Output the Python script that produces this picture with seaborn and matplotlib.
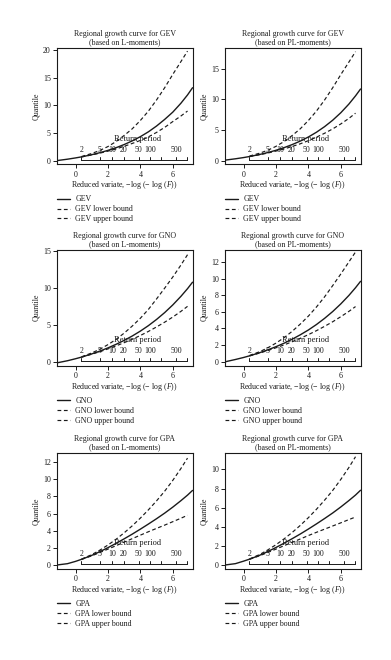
import numpy as np
import pandas as pd
import matplotlib
matplotlib.use("Agg")
import matplotlib.pyplot as plt
import seaborn as sns
from matplotlib.lines import Line2D

sns.set_style("ticks")
plt.rcParams['font.family'] = ['Liberation Serif', 'DejaVu Serif']
plt.rcParams['mathtext.fontset'] = 'custom'
plt.rcParams['mathtext.rm'] = 'Liberation Serif'
plt.rcParams['mathtext.it'] = 'Liberation Serif:italic'

# ---------------- data ----------------
x_curve = [-1.14, -0.5, 0.0, 0.37, 1.0, 1.5, 2.0, 2.5, 3.0, 3.5, 4.0, 4.5, 5.0, 5.5, 6.0, 6.5, 6.91, 7.22]
x_bound = [0.37, 1.0, 1.5, 2.0, 2.5, 3.0, 3.5, 4.0, 4.5, 5.0, 5.5, 6.0, 6.5, 6.91]

gev_l_fit = [0.07, 0.32, 0.55, 0.74, 1.13, 1.49, 1.91, 2.39, 2.96, 3.62, 4.38, 5.26, 6.30, 7.49, 8.80, 10.40, 11.9, 13.2]
gev_l_lo = [0.73, 1.09, 1.41, 1.77, 2.17, 2.64, 3.16, 3.70, 4.35, 5.15, 6.05, 7.10, 8.10, 9.0]
gev_l_up = [0.80, 1.35, 1.90, 2.60, 3.50, 4.60, 5.80, 7.30, 9.00, 11.0, 13.2, 15.6, 17.9, 19.8]

gev_pl_fit = [0.08, 0.30, 0.50, 0.67, 1.01, 1.32, 1.69, 2.12, 2.62, 3.19, 3.86, 4.64, 5.55, 6.60, 7.82, 9.24, 10.58, 11.7]
gev_pl_lo = [0.66, 0.97, 1.24, 1.56, 1.91, 2.31, 2.75, 3.26, 3.83, 4.47, 5.18, 5.99, 6.90, 7.75]
gev_pl_up = [0.75, 1.22, 1.70, 2.33, 3.12, 4.10, 5.20, 6.55, 8.10, 9.90, 11.9, 14.05, 16.1, 17.8]

gno_l_fit = [-0.05, 0.23, 0.50, 0.72, 1.15, 1.53, 1.96, 2.44, 2.97, 3.56, 4.22, 4.96, 5.79, 6.71, 7.74, 8.89, 9.93, 10.8]
gno_l_lo = [0.71, 1.11, 1.45, 1.82, 2.23, 2.66, 3.12, 3.63, 4.18, 4.78, 5.42, 6.11, 6.87, 7.55]
gno_l_up = [0.76, 1.28, 1.78, 2.40, 3.10, 3.95, 4.90, 5.95, 7.15, 8.55, 10.0, 11.5, 13.1, 14.5]

gno_pl_fit = [-0.02, 0.26, 0.50, 0.70, 1.08, 1.42, 1.80, 2.22, 2.70, 3.23, 3.81, 4.47, 5.21, 6.03, 6.95, 7.97, 8.90, 9.67]
gno_pl_lo = [0.69, 1.04, 1.34, 1.67, 2.01, 2.40, 2.81, 3.25, 3.73, 4.25, 4.80, 5.41, 6.05, 6.63]
gno_pl_up = [0.74, 1.20, 1.67, 2.23, 2.88, 3.65, 4.52, 5.48, 6.58, 7.80, 9.15, 10.55, 12.0, 13.2]

gpa_l_fit = [0.0, 0.15, 0.42, 0.66, 1.12, 1.55, 2.02, 2.52, 3.05, 3.60, 4.18, 4.78, 5.40, 6.05, 6.75, 7.50, 8.15, 8.70]
gpa_l_lo = [0.65, 1.07, 1.45, 1.85, 2.25, 2.67, 3.07, 3.48, 3.88, 4.27, 4.65, 5.05, 5.45, 5.80]
gpa_l_up = [0.68, 1.21, 1.73, 2.33, 3.00, 3.75, 4.57, 5.47, 6.44, 7.48, 8.61, 9.87, 11.25, 12.47]

gpa_pl_fit = [0.0, 0.14, 0.40, 0.61, 1.02, 1.41, 1.83, 2.28, 2.75, 3.24, 3.76, 4.30, 4.86, 5.44, 6.07, 6.74, 7.32, 7.82]
gpa_pl_lo = [0.60, 0.97, 1.31, 1.66, 2.02, 2.37, 2.72, 3.08, 3.42, 3.75, 4.08, 4.41, 4.75, 5.02]
gpa_pl_up = [0.63, 1.10, 1.58, 2.12, 2.73, 3.40, 4.14, 4.95, 5.83, 6.78, 7.80, 8.95, 10.2, 11.33]

distributions = ["GEV", "GEV", "GNO", "GNO", "GPA", "GPA"]
methods = ["L-moments", "PL-moments", "L-moments", "PL-moments", "L-moments", "PL-moments"]
fits = [gev_l_fit, gev_pl_fit, gno_l_fit, gno_pl_fit, gpa_l_fit, gpa_pl_fit]
lowers = [gev_l_lo, gev_pl_lo, gno_l_lo, gno_pl_lo, gpa_l_lo, gpa_pl_lo]
uppers = [gev_l_up, gev_pl_up, gno_l_up, gno_pl_up, gpa_l_up, gpa_pl_up]
yticks = [[0, 5, 10, 15, 20], [0, 5, 10, 15], [0, 5, 10, 15], [0, 2, 4, 6, 8, 10, 12],
          [0, 2, 4, 6, 8, 10, 12], [0, 2, 4, 6, 8, 10]]
ylims = [(-0.6, 20.36), (-0.6, 18.4), (-0.45, 15.2), (-0.5, 13.5), (-0.47, 13.1), (-0.42, 11.75)]
xticks = [0, 2, 4, 6]
return_periods = [2, 5, 10, 20, 50, 100, 200, 500, 1000]
rp_labels = ["2", "5", "10", "20", "50", "100", "", "500", ""]

# ---------------- layout ----------------
W, H = 391, 660
fig = plt.figure(figsize=(W / 100, H / 100), dpi=100)
col_left = [57, 225]
ax_w = 135.5
row_top = [48, 249.5, 452.7]
ax_h = 116.3
ink = "#1a1a1a"
FS = 5.7
xlim = (-1.144, 7.217)
dash = (0, (3.2, 2.2))

for i in range(6):
    r, c = divmod(i, 2)
    left = col_left[c] / W
    bottom = 1 - (row_top[r] + ax_h) / H
    ax = fig.add_axes([left, bottom, ax_w / W, ax_h / H])

    df_fit = pd.DataFrame({"x": x_curve, "q": fits[i]})
    df_b = pd.DataFrame({"x": x_bound, "lo": lowers[i], "up": uppers[i]})
    sns.lineplot(data=df_fit, x="x", y="q", ax=ax, color=ink, lw=1.0,
                 estimator=None, sort=False)
    sns.lineplot(data=df_b, x="x", y="lo", ax=ax, color=ink, lw=0.85,
                 estimator=None, sort=False, linestyle=dash)
    sns.lineplot(data=df_b, x="x", y="up", ax=ax, color=ink, lw=0.85,
                 estimator=None, sort=False, linestyle=dash)

    ax.set_xlim(*xlim)
    ax.set_ylim(*ylims[i])
    ax.set_xticks(xticks)
    ax.set_yticks(yticks[i])
    ax.tick_params(direction="out", length=3, width=0.7, pad=1.5,
                   labelsize=FS, colors=ink)
    for s in ax.spines.values():
        s.set_visible(True)
        s.set_linewidth(0.8)
        s.set_color(ink)

    ax.set_xlabel("Reduced variate, \u2212log (\u2212 log ($\\mathit{F}$))",
                  fontsize=FS, color=ink)
    ax.xaxis.set_label_coords(0.5, -21 / ax_h)
    ax.xaxis.label.set_va("center")
    ax.set_ylabel("Quantile", fontsize=FS, color=ink)
    ax.yaxis.set_label_coords(-21 / ax_w, 0.5)
    ax.yaxis.label.set_va("center")

    ax.text(0.5, 1 + 14 / ax_h, f"Regional growth curve for {distributions[i]}",
            transform=ax.transAxes, ha="center", va="center", fontsize=FS, color=ink)
    ax.text(0.5, 1 + 5.5 / ax_h, f"(based on {methods[i]})",
            transform=ax.transAxes, ha="center", va="center", fontsize=FS, color=ink)

    # return period axis
    trans = ax.get_xaxis_transform()
    rp_x = [-np.log(-np.log(1 - 1 / t)) for t in return_periods]
    y0 = 0.04
    ax.plot([rp_x[0], rp_x[-1]], [y0, y0], transform=trans, color=ink, lw=0.7)
    for xv, lab in zip(rp_x, rp_labels):
        ax.plot([xv, xv], [y0, y0 + 3 / ax_h], transform=trans, color=ink, lw=0.7)
        if lab:
            ax.text(xv, y0 + 10 / ax_h, lab, transform=trans, ha="center",
                    va="center", fontsize=FS, color=ink)
    ax.text(3.8, y0 + 21 / ax_h, "Return period", transform=trans, ha="center",
            va="center", fontsize=FS + 0.3, color=ink)

    d = distributions[i]
    handles = [Line2D([], [], color=ink, lw=1.0),
               Line2D([], [], color=ink, lw=0.85, linestyle=dash),
               Line2D([], [], color=ink, lw=0.85, linestyle=dash)]
    labels = [d, f"{d} lower bound", f"{d} upper bound"]
    leg_top = row_top[r] + ax_h + 31
    ax.legend(handles, labels, loc="upper left",
              bbox_to_anchor=(col_left[c] / W, 1 - leg_top / H),
              bbox_transform=fig.transFigure, frameon=False, fontsize=FS,
              handlelength=1.6, handletextpad=0.7, labelspacing=0.25,
              borderpad=0, borderaxespad=0, labelcolor=ink)

fig.savefig("out.png", dpi=100)
